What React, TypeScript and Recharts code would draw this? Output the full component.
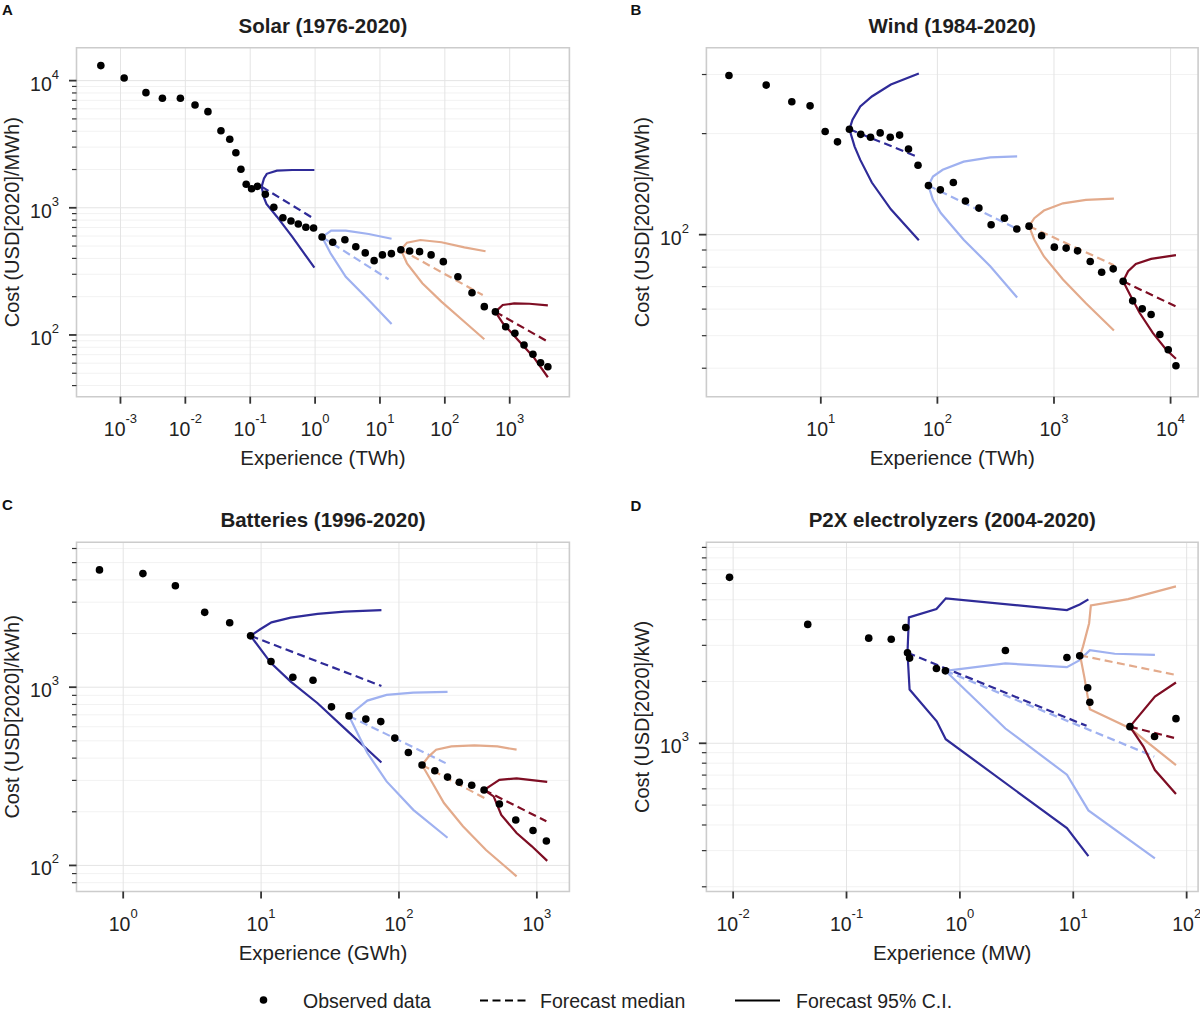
import React from 'react';
import { ScatterChart, Scatter, XAxis, YAxis, CartesianGrid, ReferenceArea } from 'recharts';

type Curve = [number, number][];

// ---------- Panel A: Solar ----------
const solarObsX = [0.000498, 0.00114, 0.00247, 0.00443, 0.00839, 0.0141, 0.0223, 0.0354, 0.0484, 0.0601, 0.0719, 0.0867, 0.105, 0.129, 0.171, 0.231, 0.319, 0.425, 0.551, 0.721, 0.948, 1.28, 1.87, 2.88, 4.24, 5.93, 8.13, 10.9, 15.0, 21.0, 28.7, 40.8, 61.4, 94.8, 159, 262, 406, 601, 867, 1202, 1663, 2280, 2992, 3873];
const solarObsY = [13120, 10500, 8040, 7260, 7260, 6430, 5700, 4040, 3460, 2710, 2010, 1530, 1413, 1475, 1277, 1009, 836, 787, 746, 703, 693, 589, 536, 561, 494, 442, 384, 426, 436, 468, 457, 452, 426, 377, 287, 215, 167, 152, 116, 103, 83.4, 70.5, 60.5, 56.2];
const solarUpper: Curve[] = [
  [[0.150, 1466], [0.163, 1700], [0.180, 1850], [0.258, 1959], [0.443, 1982], [0.975, 1982]],
  [[1.28, 589], [1.77, 661], [2.97, 661], [6.71, 622], [15.1, 571]],
  [[21.0, 468], [26.1, 532], [42.0, 558], [88.5, 536], [200, 489], [424, 455]],
  [[601, 152], [780, 172], [1172, 177], [2014, 176], [3873, 171]],
];
const solarMedian: Curve[] = [
  [[0.150, 1466], [0.975, 817]],
  [[1.28, 589], [13.6, 274]],
  [[21.0, 468], [384, 206]],
  [[601, 152], [3873, 88.5]],
];
const solarLower: Curve[] = [
  [[0.150, 1466], [0.163, 1200], [0.178, 1072], [0.258, 851], [0.443, 593], [0.975, 338]],
  [[1.28, 589], [1.73, 439], [2.97, 287], [6.71, 188], [15.1, 122]],
  [[21.0, 468], [26.1, 366], [45.0, 255], [88.5, 183], [200, 127], [406, 92.5]],
  [[601, 152], [780, 124], [1340, 91.2], [2307, 67.5], [3873, 46.5]],
];
const solarXTicks = [0.001, 0.01, 0.1, 1, 10, 100, 1000];
const solarYTicks = [40, 50, 60, 70, 80, 90, 100, 200, 300, 400, 500, 600, 700, 800, 900, 1000, 2000, 3000, 4000, 5000, 6000, 7000, 8000, 9000, 10000];

// ---------- Panel B: Wind ----------
const windObsX = [1.63, 3.40, 5.64, 8.09, 10.9, 13.9, 17.6, 22.0, 26.7, 32.3, 39.4, 47.4, 56.5, 68.2, 83.8, 106, 137, 174, 227, 289, 376, 480, 611, 783, 1007, 1271, 1592, 2046, 2564, 3221, 3917, 4732, 5715, 6808, 8091, 9550, 11120];
const windObsY = [298, 279, 249, 242, 203, 189, 206, 199, 195, 201, 195, 198, 180, 161, 140, 136, 143, 126, 120, 107, 112, 104, 106, 99.3, 91.8, 91.2, 89.5, 83.2, 77.3, 79.1, 72.6, 63.5, 60.1, 57.8, 50.4, 45.4, 40.7];
const windUpper: Curve[] = [
  [[17.6, 206], [18.7, 220], [21.8, 241], [27.4, 258], [39.9, 280], [69.3, 302]],
  [[83.8, 140], [91.6, 149], [111, 156], [168, 165], [284, 170], [483, 171]],
  [[611, 106], [678, 112], [820, 118], [1194, 124], [1879, 127], [3266, 128]],
  [[3917, 72.6], [4325, 77.8], [5035, 81.8], [6808, 84.7], [11120, 86.9]],
];
const windMedian: Curve[] = [
  [[17.6, 206], [69.3, 170]],
  [[83.8, 140], [483, 104]],
  [[611, 106], [3266, 81.1]],
  [[3917, 72.6], [11120, 61.1]],
];
const windLower: Curve[] = [
  [[17.6, 206], [19.5, 183], [21.8, 167], [27.4, 143], [39.9, 119], [69.3, 96.2]],
  [[83.8, 140], [91.6, 127], [107, 116], [168, 96.6], [284, 80.5], [483, 65.0]],
  [[611, 106], [678, 96.6], [820, 86.1], [1194, 73.5], [1879, 62.5], [3266, 51.8]],
  [[3917, 72.6], [4487, 66.2], [5420, 58.5], [7063, 50.9], [9183, 45.4], [11120, 42.7]],
];
const windXTicks = [10, 100, 1000, 10000];
const windYTicks = [40, 50, 60, 70, 80, 90, 100, 200, 300];

// ---------- Panel C: Batteries ----------
const battObsX = [0.673, 1.39, 2.39, 3.90, 5.92, 8.39, 11.8, 17.0, 23.8, 32.4, 43.4, 57.5, 73.8, 93.3, 117, 147, 182, 225, 274, 337, 414, 535, 703, 938, 1172];
const battObsY = [4550, 4340, 3710, 2630, 2300, 1941, 1393, 1138, 1094, 776, 690, 662, 641, 518, 430, 366, 340, 313, 293, 282, 265, 221, 180, 157, 137];
const battUpper: Curve[] = [
  [[8.39, 1941], [9.86, 2113], [11.9, 2312], [16.4, 2455], [25.7, 2576], [40.2, 2655], [74.6, 2710]],
  [[43.4, 690], [50.4, 762], [59.0, 841], [81.3, 906], [127, 933], [225, 942]],
  [[147, 366], [164, 408], [186, 446], [240, 465], [352, 471], [518, 465], [713, 446]],
  [[414, 265], [471, 283], [535, 302], [713, 308], [1189, 294]],
];
const battMedian: Curve[] = [
  [[8.39, 1941], [74.6, 1016]],
  [[43.4, 690], [218, 375]],
  [[147, 366], [429, 236]],
  [[414, 265], [1172, 177]],
];
const battLower: Curve[] = [
  [[8.39, 1941], [11.8, 1365], [16.4, 1074], [25.7, 813], [40.2, 589], [74.6, 378]],
  [[43.4, 690], [48.6, 577], [59.0, 427], [81.3, 296], [127, 205], [225, 143]],
  [[147, 366], [175, 290], [212, 224], [291, 166], [428, 122], [713, 86.9]],
  [[414, 265], [486, 244], [552, 192], [713, 152], [920, 128], [1189, 106]],
];
const battXTicks = [1, 10, 100, 1000];
const battYTicks = [80, 90, 100, 200, 300, 400, 500, 600, 700, 800, 900, 1000, 2000, 3000, 4000, 5000, 6000];

// ---------- Panel D: P2X electrolyzers ----------
const p2xObsX = [0.00929, 0.0455, 0.157, 0.248, 0.333, 0.345, 0.360, 0.621, 0.745, 2.52, 8.79, 11.4, 13.4, 14.0, 31.6, 52.1, 80.5];
const p2xObsY = [6430, 3793, 3251, 3214, 3664, 2761, 2600, 2312, 2254, 2831, 2618, 2667, 1862, 1585, 1205, 1079, 1318];
const p2xUpper: Curve[] = [
  [[0.345, 2761], [0.355, 4102], [0.621, 4508], [0.752, 5082], [8.79, 4457], [11.4, 4742], [13.6, 5023]],
  [[0.745, 2254], [2.52, 2449], [8.79, 2350], [11.4, 2541], [14.0, 2844], [23.2, 2729], [52.5, 2698]],
  [[11.5, 2679], [12.2, 2965], [13.8, 3846], [14.3, 4699], [30.5, 5035], [80.5, 5808]],
  [[31.6, 1205], [52.5, 1690], [80.5, 1977]],
];
const p2xMedian: Curve[] = [
  [[0.345, 2761], [13.1, 1216]],
  [[0.745, 2254], [51.8, 861]],
  [[11.5, 2679], [80.5, 2153]],
  [[31.6, 1205], [80.5, 1057]],
];
const p2xLower: Curve[] = [
  [[0.345, 2761], [0.360, 1828], [0.625, 1279], [0.750, 1047], [8.79, 386], [13.6, 282]],
  [[0.745, 2254], [2.52, 1180], [8.79, 703], [13.6, 471], [52.5, 275]],
  [[11.5, 2679], [12.5, 2113], [14.0, 1466], [31.6, 1183], [80.5, 783]],
  [[31.6, 1205], [41.6, 964], [52.5, 741], [80.5, 566]],
];
const p2xXTicks = [0.01, 0.1, 1, 10, 100];
const p2xYTicks = [200, 300, 400, 500, 600, 700, 800, 900, 1000, 2000, 3000, 4000, 5000, 6000, 7000, 8000, 9000];

const forecastColors = ['#2f2b98', '#9fb1f0', '#e3aa8b', '#7e0d23'];
const legendLabels = ['Observed data', 'Forecast median', 'Forecast 95% C.I.'];

const FONT = '"Liberation Sans", Arial, Helvetica, sans-serif';
const XAXIS_H = 80;
const TEXT = '#222222';

const isMajor = (v: number) => Math.abs(Math.log10(v) - Math.round(Math.log10(v))) < 1e-6;
const expOf = (v: number) => String(Math.round(Math.log10(v)));
const toPts = (c: Curve) => c.map(([x, y]) => ({ x, y }));
const obsPts = (xs: number[], ys: number[]) => xs.map((x, i) => ({ x, y: ys[i] }));

function XTick(props: any) {
  const { x, y, payload } = props;
  const v = payload.value as number;
  const major = isMajor(v);
  return (
    <g>
      <line x1={x} x2={x} y1={y} y2={y + (major ? 7 : 4)} stroke="#333" strokeWidth={major ? 1.8 : 1.2} />
      {major && (
        <text x={x} y={y + 39} textAnchor="middle" fontFamily={FONT} fontSize={19.5} fill={TEXT}>
          10<tspan dy={-12.5} fontSize={13}>{expOf(v)}</tspan>
        </text>
      )}
    </g>
  );
}

function YTick(props: any) {
  const { x, y, payload } = props;
  const v = payload.value as number;
  const major = isMajor(v);
  return (
    <g>
      <line x1={x} x2={x - (major ? 7.5 : 4.5)} y1={y} y2={y} stroke="#333" strokeWidth={major ? 1.8 : 1.2} />
      {major && (
        <text x={x - 17.5} y={y + 10} textAnchor="end" fontFamily={FONT} fontSize={19.5} fill={TEXT}>
          10<tspan dy={-12} fontSize={13}>{expOf(v)}</tspan>
        </text>
      )}
    </g>
  );
}

interface PanelProps {
  box: { left: number; top: number; width: number; height: number };
  plot: { l: number; t: number; r: number; b: number };
  xDomain: [number, number];
  yDomain: [number, number];
  xTicks: number[];
  yTicks: number[];
  obsX: number[];
  obsY: number[];
  upper: Curve[];
  median: Curve[];
  lower: Curve[];
  xLabel: string;
  yLabel: string;
}

function Panel(p: PanelProps) {
  const { box, plot } = p;
  const yAxisW = plot.l - box.left;
  const margin = {
    top: plot.t - box.top,
    right: box.left + box.width - plot.r,
    bottom: box.top + box.height - plot.b - XAXIS_H,
    left: 0,
  };
  const xMajor = p.xTicks.filter(isMajor);
  const yMajor = p.yTicks.filter(isMajor);
  const yMinor = p.yTicks.filter((v) => !isMajor(v));
  const lines: React.ReactNode[] = [];
  forecastColors.forEach((color, i) => {
    lines.push(
      <Scatter key={`u${i}`} data={toPts(p.upper[i])} fill={color} line={{ stroke: color, strokeWidth: 2.2 }} lineType="joint" shape={() => <g />} isAnimationActive={false} />
    );
    lines.push(
      <Scatter key={`l${i}`} data={toPts(p.lower[i])} fill={color} line={{ stroke: color, strokeWidth: 2.2 }} lineType="joint" shape={() => <g />} isAnimationActive={false} />
    );
    lines.push(
      <Scatter key={`m${i}`} data={toPts(p.median[i])} fill={color} line={{ stroke: color, strokeWidth: 2.2, strokeDasharray: '8 4.5' }} lineType="joint" shape={() => <g />} isAnimationActive={false} />
    );
  });
  return (
    <div style={{ position: 'absolute', left: box.left, top: box.top, width: box.width, height: box.height }}>
      <ScatterChart width={box.width} height={box.height} margin={margin}>
        <CartesianGrid horizontalValues={yMinor} vertical={false} stroke="#f2f2f2" strokeWidth={1} />
        <CartesianGrid horizontalValues={yMajor} verticalValues={xMajor} stroke="#e4e4e4" strokeWidth={1} />
        <XAxis
          dataKey="x"
          type="number"
          scale="log"
          domain={p.xDomain}
          allowDataOverflow
          ticks={p.xTicks}
          interval={0}
          tickLine={false}
          axisLine={false}
          tickSize={0}
          tickMargin={0}
          height={XAXIS_H}
          tick={(tp: any) => <XTick {...tp} />}
          label={(lp: any) => {
            const vb = lp.viewBox;
            return (
              <text x={vb.x + vb.width / 2} y={vb.y + 68.3} textAnchor="middle" fontFamily={FONT} fontSize={20.5} fill={TEXT}>
                {p.xLabel}
              </text>
            );
          }}
        />
        <YAxis
          dataKey="y"
          type="number"
          scale="log"
          domain={p.yDomain}
          allowDataOverflow
          ticks={p.yTicks}
          interval={0}
          tickLine={false}
          axisLine={false}
          tickSize={0}
          tickMargin={0}
          width={yAxisW}
          tick={(tp: any) => <YTick {...tp} />}
          label={(lp: any) => {
            const vb = lp.viewBox;
            const tx = vb.x + vb.width - 57;
            const ty = vb.y + vb.height / 2;
            return (
              <text x={tx} y={ty} transform={`rotate(-90, ${tx}, ${ty})`} textAnchor="middle" fontFamily={FONT} fontSize={20} fill={TEXT}>
                {p.yLabel}
              </text>
            );
          }}
        />
        {lines}
        <Scatter
          data={obsPts(p.obsX, p.obsY)}
          fill="#000"
          isAnimationActive={false}
          shape={(sp: any) => <circle cx={sp.cx} cy={sp.cy} r={3.8} fill="#000" />}
        />
        <ReferenceArea
          x1={p.xDomain[0]}
          x2={p.xDomain[1]}
          y1={p.yDomain[0]}
          y2={p.yDomain[1]}
          ifOverflow="visible"
          fill="none"
          fillOpacity={0}
          stroke="#cccccc"
          strokeWidth={1.6}
        />
      </ScatterChart>
    </div>
  );
}

const plotA = { l: 76.5, t: 47.7, r: 569.4, b: 396.7 };
const plotB = { l: 706.4, t: 47.7, r: 1198.1, b: 396.7 };
const plotC = { l: 76.5, t: 542.3, r: 569.4, b: 891.5 };
const plotD = { l: 706.4, t: 542.3, r: 1198.1, b: 891.5 };

export default function App() {
  const titleStyle = { fontFamily: FONT, fontSize: 20.5, fontWeight: 700 as const, fill: '#1e1e1e' };
  const letterStyle = { fontFamily: FONT, fontSize: 15, fontWeight: 700 as const, fill: '#111' };
  const legendText = { fontFamily: FONT, fontSize: 19.5, fill: TEXT };
  return (
    <div style={{ position: 'absolute', left: 0, top: 0, width: 1200, height: 1012, background: '#fff', overflow: 'hidden' }}>
      <Panel
        box={{ left: 0, top: 0, width: 600, height: 490 }}
        plot={plotA}
        xDomain={[0.00021, 8318]}
        yDomain={[32.7, 18150]}
        xTicks={solarXTicks}
        yTicks={solarYTicks}
        obsX={solarObsX}
        obsY={solarObsY}
        upper={solarUpper}
        median={solarMedian}
        lower={solarLower}
        xLabel="Experience (TWh)"
        yLabel="Cost (USD[2020]/MWh)"
      />
      <Panel
        box={{ left: 600, top: 0, width: 600, height: 490 }}
        plot={plotB}
        xDomain={[1.044, 17220]}
        yDomain={[32.9, 360.6]}
        xTicks={windXTicks}
        yTicks={windYTicks}
        obsX={windObsX}
        obsY={windObsY}
        upper={windUpper}
        median={windMedian}
        lower={windLower}
        xLabel="Experience (TWh)"
        yLabel="Cost (USD[2020]/MWh)"
      />
      <Panel
        box={{ left: 0, top: 490, width: 600, height: 522 }}
        plot={plotC}
        xDomain={[0.4585, 1722]}
        yDomain={[71.4, 6501]}
        xTicks={battXTicks}
        yTicks={battYTicks}
        obsX={battObsX}
        obsY={battObsY}
        upper={battUpper}
        median={battMedian}
        lower={battLower}
        xLabel="Experience (GWh)"
        yLabel="Cost (USD[2020]/kWh)"
      />
      <Panel
        box={{ left: 600, top: 490, width: 600, height: 522 }}
        plot={plotD}
        xDomain={[0.00581, 126.2]}
        yDomain={[189.7, 9528]}
        xTicks={p2xXTicks}
        yTicks={p2xYTicks}
        obsX={p2xObsX}
        obsY={p2xObsY}
        upper={p2xUpper}
        median={p2xMedian}
        lower={p2xLower}
        xLabel="Experience (MW)"
        yLabel="Cost (USD[2020]/kW)"
      />
      <svg width={1200} height={1012} style={{ position: 'absolute', left: 0, top: 0, pointerEvents: 'none' }}>
        <text x={2} y={15} style={letterStyle}>A</text>
        <text x={630.5} y={15} style={letterStyle}>B</text>
        <text x={2} y={510} style={letterStyle}>C</text>
        <text x={630.5} y={511} style={letterStyle}>D</text>
        <text x={(plotA.l + plotA.r) / 2} y={32.5} textAnchor="middle" style={titleStyle}>Solar (1976-2020)</text>
        <text x={(plotB.l + plotB.r) / 2} y={32.5} textAnchor="middle" style={titleStyle}>Wind (1984-2020)</text>
        <text x={(plotC.l + plotC.r) / 2} y={527} textAnchor="middle" style={titleStyle}>Batteries (1996-2020)</text>
        <text x={(plotD.l + plotD.r) / 2} y={527} textAnchor="middle" style={titleStyle}>P2X electrolyzers (2004-2020)</text>
        <circle cx={263.5} cy={1000} r={3.8} fill="#000" />
        <text x={303} y={1007.5} style={legendText}>{legendLabels[0]}</text>
        <line x1={480} x2={527} y1={1000.5} y2={1000.5} stroke="#000" strokeWidth={2.2} strokeDasharray="8 4.5" />
        <text x={540} y={1007.5} style={legendText}>{legendLabels[1]}</text>
        <line x1={735} x2={780} y1={1000.5} y2={1000.5} stroke="#000" strokeWidth={2.2} />
        <text x={796} y={1007.5} style={legendText}>{legendLabels[2]}</text>
      </svg>
    </div>
  );
}
